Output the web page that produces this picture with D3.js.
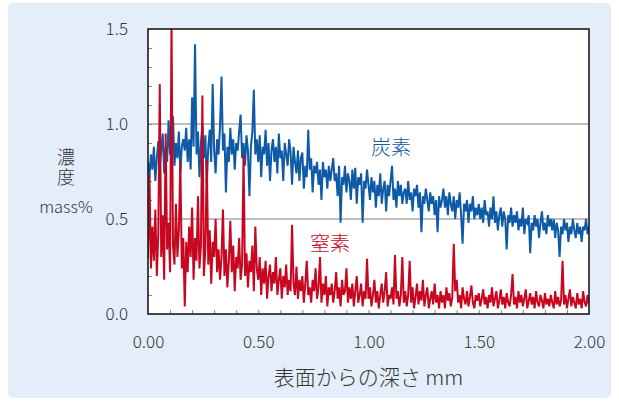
<!DOCTYPE html>
<html>
<head>
<meta charset="utf-8">
<script src="https://cdn.jsdelivr.net/npm/d3@7"></script>
<style>
  html, body { margin: 0; padding: 0; background: #ffffff; }
  svg { display: block; }
  text { font-family: "Noto Sans CJK JP", "Noto Sans", sans-serif; }
</style>
</head>
<body>
<svg id="chart" width="619" height="402"></svg>
<script>
// Depth profile sampled every 1/150 mm from 0 to 2.00 mm (301 samples).
const depthStep = 1 / 150;

// Carbon concentration, in units of 0.01 mass%.
const carbon = [
  80, 72, 84, 76, 88, 70, 82, 91, 78, 86, 95, 74, 88, 80, 102, 84, 92, 104, 78, 90, 82, 96, 74, 88, 92,
  86, 98, 80, 92, 76, 114, 88, 142, 84, 96, 72, 90, 100, 82, 94, 68, 88, 97, 80, 121, 86, 74, 92, 84, 99,
  125, 86, 95, 64, 88, 80, 98, 84, 92, 76, 90, 86, 96, 105, 82, 90, 78, 94, 86, 62, 88, 96, 118, 84, 92,
  80, 94, 72, 88, 84, 97, 78, 90, 70, 86, 92, 80, 88, 74, 95, 82, 86, 70, 90, 84, 78, 92, 85, 68, 88,
  80, 74, 86, 70, 82, 85, 66, 78, 72, 97, 76, 82, 64, 78, 74, 80, 68, 76, 60, 80, 72, 76, 66, 78, 70,
  76, 82, 70, 74, 62, 78, 48, 72, 68, 78, 64, 74, 70, 60, 76, 66, 77, 58, 72, 68, 74, 48, 70, 66, 76,
  68, 60, 72, 64, 70, 56, 68, 62, 74, 58, 66, 70, 54, 68, 62, 70, 78, 60, 66, 56, 70, 62, 68, 58, 64,
  66, 58, 70, 60, 64, 54, 66, 62, 68, 56, 64, 43, 62, 58, 66, 60, 54, 64, 58, 62, 52, 60, 43, 62, 56,
  60, 66, 56, 62, 52, 64, 58, 54, 62, 50, 60, 56, 64, 52, 37, 58, 54, 60, 48, 58, 54, 62, 50, 56, 52,
  58, 50, 56, 48, 60, 52, 54, 46, 56, 50, 62, 48, 54, 44, 52, 56, 46, 54, 50, 34, 52, 48, 56, 46, 52,
  48, 54, 44, 50, 46, 56, 42, 50, 48, 52, 32, 48, 44, 52, 46, 50, 40, 48, 54, 44, 48, 42, 52, 46, 50,
  44, 50, 40, 48, 44, 30, 46, 42, 50, 44, 48, 38, 46, 42, 50, 44, 40, 48, 42, 46, 38, 46, 44, 50, 42, 46
];

// Nitrogen concentration, in units of 0.01 mass%.
const nitrogen = [
  30, 73, 24, 46, 28, 55, 20, 42, 121, 30, 52, 18, 95, 34, 48, 22, 155, 36, 26, 58, 30, 44, 80, 24, 40,
  4, 38, 22, 46, 30, 56, 18, 40, 28, 62, 24, 36, 115, 20, 34, 81, 26, 44, 16, 38, 30, 50, 22, 34, 18,
  30, 55, 20, 34, 14, 28, 49, 22, 36, 12, 30, 24, 40, 18, 26, 84, 20, 32, 14, 28, 22, 36, 12, 46, 24,
  18, 30, 10, 24, 16, 28, 8, 20, 26, 12, 22, 16, 30, 10, 18, 24, 8, 20, 14, 26, 10, 18, 12, 47, 16,
  10, 25, 8, 18, 12, 20, 6, 16, 28, 10, 14, 6, 18, 12, 24, 8, 14, 30, 6, 16, 10, 20, 4, 14, 10,
  16, 6, 12, 22, 8, 14, 4, 18, 10, 12, 24, 6, 14, 8, 16, 4, 12, 20, 6, 10, 16, 4, 12, 8, 29,
  8, 14, 4, 10, 18, 6, 12, 3, 10, 16, 6, 12, 22, 4, 10, 8, 14, 5, 31, 8, 12, 4, 10, 30, 6,
  12, 4, 10, 28, 6, 14, 3, 9, 16, 5, 12, 7, 18, 4, 10, 14, 3, 8, 12, 5, 16, 6, 10, 3, 12,
  6, 10, 3, 14, 7, 11, 4, 9, 37, 12, 18, 6, 10, 3, 14, 8, 5, 12, 4, 9, 15, 6, 3, 10, 7,
  11, 4, 8, 13, 5, 9, 3, 10, 6, 14, 4, 8, 12, 3, 7, 13, 5, 9, 3, 11, 6, 4, 10, 21, 5,
  9, 3, 12, 6, 10, 4, 8, 13, 3, 7, 11, 5, 9, 3, 12, 6, 4, 10, 7, 3, 11, 5, 8, 4, 10,
  6, 3, 12, 5, 9, 4, 7, 28, 5, 10, 3, 8, 13, 4, 9, 6, 3, 11, 5, 8, 3, 12, 6, 4, 10, 5
];

const yTickLabels = [0, 0.5, 1.0, 1.5];
const xTickLabels = [0, 0.5, 1.0, 1.5, 2.0];
const seriesNames = ["炭素", "窒素"];
const axisTitleX = "表面からの深さ mm";
const axisTitleY = ["濃度", "mass%"];

const W = 619, H = 402;
const plot = { left: 148, right: 589, top: 29, bottom: 314 };
const blue = "#0e5aa7";
const red = "#c8061f";
const inkColor = "#333333";
const labelFont = '"Noto Sans CJK JP", "Noto Sans", sans-serif';

const svg = d3.select("#chart");

// Pale blue panel behind everything
svg.append("rect")
  .attr("x", 8).attr("y", 3)
  .attr("width", 603).attr("height", 395)
  .attr("rx", 5).attr("ry", 5)
  .attr("fill", "#e3eefa");

const x = d3.scaleLinear().domain([0, 2]).range([plot.left, plot.right]);
const y = d3.scaleLinear().domain([0, 1.5]).range([plot.bottom, plot.top]);

// Plot background
svg.append("rect")
  .attr("x", plot.left).attr("y", plot.top)
  .attr("width", plot.right - plot.left).attr("height", plot.bottom - plot.top)
  .attr("fill", "#ffffff");

// Horizontal grid lines
svg.append("g")
  .selectAll("line")
  .data([0.5, 1.0])
  .join("line")
  .attr("x1", plot.left).attr("x2", plot.right)
  .attr("y1", d => y(d)).attr("y2", d => y(d))
  .attr("stroke", "#a8a8a8").attr("stroke-width", 1.5);

// Minor inward ticks every 0.1 on both axes
const minorY = d3.axisLeft(y).tickValues(d3.range(1, 15).map(d => d / 10)).tickSize(-4).tickFormat("");
const minorX = d3.axisBottom(x).tickValues(d3.range(1, 20).map(d => d / 10)).tickSize(-4).tickFormat("");
const gMinorY = svg.append("g").attr("transform", `translate(${plot.left},0)`).call(minorY);
const gMinorX = svg.append("g").attr("transform", `translate(0,${plot.bottom})`).call(minorX);
[gMinorY, gMinorX].forEach(g => {
  g.select(".domain").remove();
  g.selectAll(".tick line").attr("stroke", "#888888").attr("stroke-width", 1);
});

// Data lines, clipped to the plot area
svg.append("clipPath").attr("id", "plotClip")
  .append("rect")
  .attr("x", plot.left).attr("y", plot.top)
  .attr("width", plot.right - plot.left).attr("height", plot.bottom - plot.top);

const line = d3.line()
  .x((d, i) => x(i * depthStep))
  .y(d => y(d / 100));

const lines = svg.append("g").attr("clip-path", "url(#plotClip)");
lines.append("path")
  .datum(carbon)
  .attr("d", line)
  .attr("fill", "none")
  .attr("stroke", blue)
  .attr("stroke-width", 2);
lines.append("path")
  .datum(nitrogen)
  .attr("d", line)
  .attr("fill", "none")
  .attr("stroke", red)
  .attr("stroke-width", 2);

// Frame
svg.append("rect")
  .attr("x", plot.left).attr("y", plot.top)
  .attr("width", plot.right - plot.left).attr("height", plot.bottom - plot.top)
  .attr("fill", "none")
  .attr("stroke", "#1a1a1a").attr("stroke-width", 1.6);

// Tick labels
const yAxis = d3.axisLeft(y).tickValues(yTickLabels).tickSize(0).tickPadding(20).tickFormat(d3.format(".1f"));
const xAxis = d3.axisBottom(x).tickValues(xTickLabels).tickSize(0).tickPadding(22).tickFormat(d3.format(".2f"));
const gy = svg.append("g").attr("transform", `translate(${plot.left},0)`).call(yAxis);
const gx = svg.append("g").attr("transform", `translate(0,${plot.bottom})`).call(xAxis);
[gy, gx].forEach(g => {
  g.select(".domain").remove();
  g.selectAll(".tick text")
    .attr("fill", inkColor)
    .style("font-family", labelFont)
    .style("font-weight", 300)
    .style("font-size", "17px");
});

// Axis titles
svg.append("text")
  .attr("x", (plot.left + plot.right) / 2).attr("y", 385)
  .attr("text-anchor", "middle")
  .attr("fill", inkColor)
  .style("font-weight", 300)
  .style("font-size", "21px")
  .text(axisTitleX);

// Vertical title set in a vertical writing mode, then the unit below it
svg.append("text")
  .attr("x", 66).attr("y", 148)
  .attr("fill", inkColor)
  .style("writing-mode", "vertical-rl")
  .style("letter-spacing", "2px")
  .style("font-weight", 300)
  .style("font-size", "18px")
  .text(axisTitleY[0]);
svg.append("text").attr("x", 66).attr("y", 213).attr("text-anchor", "middle")
  .attr("fill", inkColor).style("font-weight", 300).style("font-size", "16.5px").text(axisTitleY[1]);

// Series labels
svg.append("text").attr("x", 391).attr("y", 155).attr("text-anchor", "middle")
  .attr("fill", blue).style("font-weight", 300).style("font-size", "20px").text(seriesNames[0]);
svg.append("text").attr("x", 330).attr("y", 251).attr("text-anchor", "middle")
  .attr("fill", red).style("font-weight", 300).style("font-size", "20px").text(seriesNames[1]);
</script>
</body>
</html>
